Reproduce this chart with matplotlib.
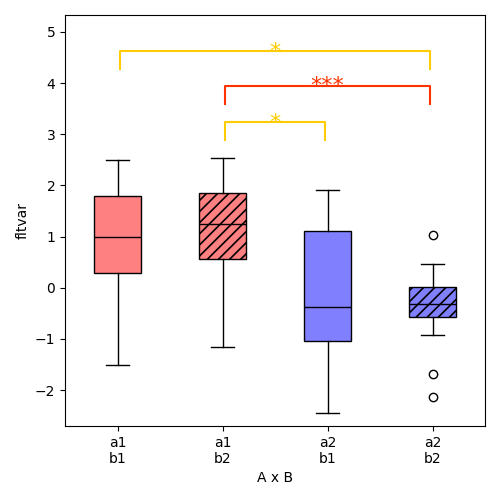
import matplotlib
matplotlib.use("Agg")
import matplotlib.pyplot as plt

# groups and box statistics
labels = ["a1\nb1", "a1\nb2", "a2\nb1", "a2\nb2"]
whislo = [-1.50, -1.15, -2.44, -0.92]
q1 = [0.29, 0.57, -1.04, -0.57]
med = [1.00, 1.25, -0.37, -0.31]
q3 = [1.80, 1.86, 1.11, 0.02]
whishi = [2.50, 2.54, 1.91, 0.47]
fliers = [[], [], [], [1.04, -1.68, -2.13]]

box_colors = ["#ff8080", "#ff8080", "#8080ff", "#8080ff"]
hatches = [None, "///", None, "///"]

# significance brackets: (group i, group j, height, label, colour)
brackets = [
    (1, 2, 3.24, "*", "#ffcc00"),
    (1, 3, 3.95, "***", "#ff3300"),
    (0, 3, 4.63, "*", "#ffcc00"),
]

stats = []
for i in range(len(labels)):
    stats.append({"whislo": whislo[i], "q1": q1[i], "med": med[i],
                  "q3": q3[i], "whishi": whishi[i], "fliers": fliers[i]})

plt.rcParams["hatch.linewidth"] = 1.2

fig = plt.figure(figsize=(5, 5), dpi=100)
ax = fig.add_axes([0.13, 0.148, 0.84, 0.822])

bp = ax.bxp(stats, positions=range(len(labels)), widths=0.45,
            patch_artist=True, showfliers=True,
            medianprops=dict(color="black"),
            flierprops=dict(marker="o", markerfacecolor="none",
                            markeredgecolor="black", markersize=6))
for patch, c, h in zip(bp["boxes"], box_colors, hatches):
    patch.set_facecolor(c)
    patch.set_edgecolor("black")
    if h:
        patch.set_hatch(h)

# brackets
drop = 0.35
inset = 0.025
for i, j, h, txt, c in brackets:
    x0, x1 = i + inset, j - inset
    ax.plot([x0, x0, x1, x1], [h - drop, h, h, h - drop], color=c, lw=1.5)
    ax.text((i + j) / 2, h - 0.21, txt, color=c, ha="center", va="bottom",
            fontsize=16)

ax.set_xticks(range(len(labels)))
ax.set_xticklabels(labels)
ax.set_xlim(-0.5, 3.5)
ax.set_ylim(-2.7, 5.33)
ax.set_xlabel("A x B")
ax.set_ylabel("fltvar")

fig.savefig("out.png", dpi=100)
